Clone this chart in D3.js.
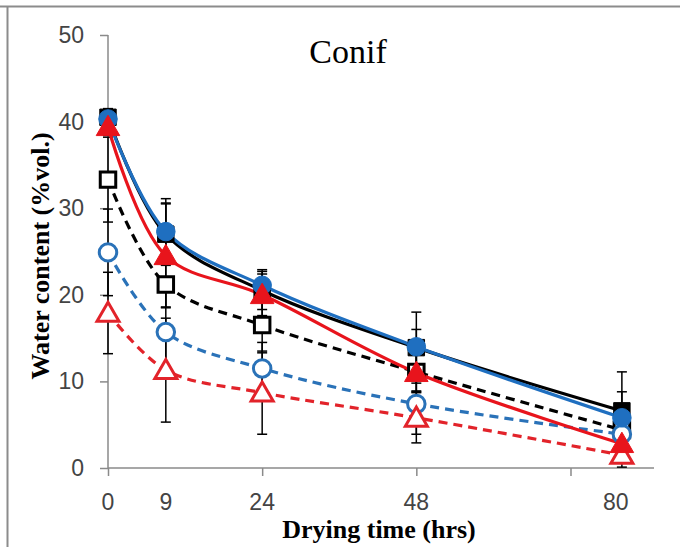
<!DOCTYPE html>
<html>
<head>
<meta charset="utf-8">
<script src="https://cdn.jsdelivr.net/npm/d3@7"></script>
<style>
  body { margin: 0; background: #fff; }
  svg { display: block; }
</style>
</head>
<body>
<div id="chart"></div>
<script>
// drying times (hrs)
const hours = [0, 9, 24, 48, 80];
const xTickLabels = ["0", "9", "24", "48", "80"];
const xTicks = [0, 24, 48, 72];
const yTicks = [0, 10, 20, 30, 40, 50];

// water content (%vol.)
const blackSolid = [40.5, 27.0, 20.5, 13.9, 6.6];
const blueSolid = [40.3, 27.3, 21.1, 14.0, 5.8];
const redSolid = [39.4, 24.5, 20.0, 11.0, 2.8];
const blackDash = [33.3, 21.2, 16.5, 11.1, 4.4];
const blueDash = [24.9, 15.7, 11.5, 7.4, 3.9];
const redDash = [17.9, 11.3, 8.7, 5.8, 1.5];

// error (+/-)
const blackSolidErr = [1.0, 3.6, 2.2, 4.1, 4.5];
const blueSolidErr = [1.0, 3.8, 1.8, 2.0, 3.0];
const redSolidErr = [1.0, 6.0, 2.4, 2.2, 1.0];
const blackDashErr = [4.9, 2.6, 3.2, 2.2, 2.0];
const blueDashErr = [5.0, 5.2, 3.0, 3.5, 2.0];
const redDashErr = [4.7, 6.0, 4.8, 2.9, 1.4];

const width = 680, height = 547;
const svg = d3.select("#chart").append("svg")
    .attr("width", width)
    .attr("height", height);

// frame of the cropped picture
svg.append("line").attr("x1", 0).attr("x2", width).attr("y1", 6.5).attr("y2", 6.5)
    .style("stroke", "#8c8c8c").style("stroke-width", 2);
svg.append("line").attr("x1", 7.5).attr("x2", 7.5).attr("y1", 6).attr("y2", height)
    .style("stroke", "#8c8c8c").style("stroke-width", 2);

const scaleX = d3.scaleLinear().domain([0, 85]).range([108, 654]);
const scaleY = d3.scaleLinear().domain([0, 50]).range([468, 35]);

// axes
const xAxis = d3.axisBottom(scaleX).tickValues(xTicks).tickSize(8).tickFormat("");
const yAxis = d3.axisLeft(scaleY).tickValues(yTicks).tickSize(8).tickFormat("");

const gx = svg.append("g").attr("transform", "translate(0," + scaleY(0) + ")").call(xAxis);
const gy = svg.append("g").attr("transform", "translate(" + scaleX(0) + ",0)").call(yAxis);
[gx, gy].forEach(g => {
    g.select(".domain").style("stroke", "#8a8a8a").style("stroke-width", 1.5);
    g.selectAll(".tick line").style("stroke", "#8a8a8a").style("stroke-width", 1.5);
});
gx.select(".domain").attr("d", "M" + scaleX(0) + ",0H" + scaleX(85));
gy.select(".domain").attr("d", "M0," + scaleY(0) + "V" + scaleY(50));

// tick labels
svg.append("g").selectAll("text")
    .data(yTicks).enter().append("text")
    .attr("x", 84)
    .attr("y", d => scaleY(d) + 8)
    .attr("text-anchor", "end")
    .style("font-family", "'Liberation Sans', Arial, sans-serif")
    .style("font-size", "23px")
    .style("fill", "#444")
    .text(d => d);

svg.append("g").selectAll("text")
    .data(hours).enter().append("text")
    .attr("x", (d, i) => scaleX(d) + (i === 4 ? -6 : 0))
    .attr("y", 510)
    .attr("text-anchor", "middle")
    .style("font-family", "'Liberation Sans', Arial, sans-serif")
    .style("font-size", "23px")
    .style("fill", "#444")
    .text((d, i) => xTickLabels[i]);

// titles
svg.append("text")
    .attr("x", 348).attr("y", 63)
    .attr("text-anchor", "middle")
    .style("font-family", "'Liberation Serif', 'Times New Roman', serif")
    .style("font-size", "34px")
    .text("Conif");

svg.append("text")
    .attr("x", 379).attr("y", 538)
    .attr("text-anchor", "middle")
    .style("font-family", "'Liberation Serif', 'Times New Roman', serif")
    .style("font-weight", "bold")
    .style("font-size", "26px")
    .text("Drying time (hrs)");

svg.append("text")
    .attr("transform", "translate(49,256) rotate(-90)")
    .attr("text-anchor", "middle")
    .style("font-family", "'Liberation Serif', 'Times New Roman', serif")
    .style("font-weight", "bold")
    .style("font-size", "26px")
    .text("Water content (%vol.)");

const series = [
    {vals: blackDash, err: blackDashErr, color: "#000000", dash: true, shape: "square"},
    {vals: blueDash, err: blueDashErr, color: "#2a72b8", dash: true, shape: "circle"},
    {vals: redDash, err: redDashErr, color: "#e2232a", dash: true, shape: "triangle"},
    {vals: blackSolid, err: blackSolidErr, color: "#000000", dash: false, shape: "square"},
    {vals: blueSolid, err: blueSolidErr, color: "#1f6fc0", dash: false, shape: "circle"},
    {vals: redSolid, err: redSolidErr, color: "#e8141c", dash: false, shape: "triangle"}
];

// error bars
const eb = svg.append("g");
series.forEach(s => {
    s.vals.forEach((v, i) => {
        const x = scaleX(hours[i]);
        const y1 = scaleY(v - s.err[i]), y2 = scaleY(v + s.err[i]);
        eb.append("line").attr("x1", x).attr("x2", x).attr("y1", y1).attr("y2", y2)
            .style("stroke", "#000").style("stroke-width", 1.5);
        [y1, y2].forEach(y => {
            eb.append("line").attr("x1", x - 5).attr("x2", x + 5).attr("y1", y).attr("y2", y)
                .style("stroke", "#000").style("stroke-width", 1.5);
        });
    });
});

// lines
const line = d3.line()
    .x((d, i) => scaleX(hours[i]))
    .y(d => scaleY(d))
    .curve(d3.curveCatmullRom.alpha(0.5));

series.forEach(s => {
    svg.append("path")
        .attr("d", line(s.vals))
        .style("fill", "none")
        .style("stroke", s.color)
        .style("stroke-width", 3.2)
        .style("stroke-dasharray", s.dash ? "9,6" : null);
});

// markers
const symbols = {square: d3.symbolSquare, circle: d3.symbolCircle, triangle: d3.symbolTriangle};
const sizes = {square: 270, circle: 270, triangle: 240};
series.forEach(s => {
    const sym = d3.symbol().type(symbols[s.shape]).size(s.dash ? sizes[s.shape] - 30 : sizes[s.shape]);
    svg.append("g").selectAll("path")
        .data(s.vals).enter().append("path")
        .attr("d", sym)
        .attr("transform", (d, i) => "translate(" + scaleX(hours[i]) + "," + (scaleY(d) + (s.shape === "triangle" ? 2 : 0)) + ")")
        .style("fill", s.dash ? "#fff" : s.color)
        .style("stroke", s.color)
        .style("stroke-width", s.dash ? 3 : 1);
});
</script>
</body>
</html>
